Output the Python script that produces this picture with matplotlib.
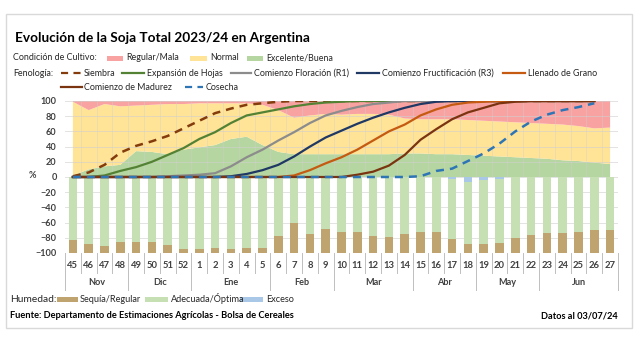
import numpy as np
import matplotlib.pyplot as plt
import matplotlib.transforms as mtransforms
from matplotlib.patches import Rectangle
from matplotlib.lines import Line2D

plt.rcParams['font.family'] = ['Lato', 'DejaVu Sans']

# semanas del ciclo y meses
semanas = ['45', '46', '47', '48', '49', '50', '51', '52', '1', '2', '3', '4', '5',
           '6', '7', '8', '9', '10', '11', '12', '13', '14', '15', '16', '17', '18',
           '19', '20', '21', '22', '23', '24', '25', '26', '27']
meses = ['Nov', 'Dic', 'Ene', 'Feb', 'Mar', 'Abr', 'May', 'Jun']
semanas_por_mes = [4, 4, 5, 4, 5, 4, 4, 5]

# condicion de cultivo (%)
excelente = [2, 10, 14, 16, 34, 33, 30, 36, 39, 42, 50, 53, 42, 33, 30, 30, 30, 30,
             30, 30, 30, 31, 31, 30, 30, 29, 28, 27, 26, 25, 24, 22, 21, 19, 17]
normal = [97, 78, 82, 77, 60, 62, 66, 60, 58, 55, 47, 44, 53, 55, 48, 51, 53, 52,
          53, 53, 52, 46, 45, 46, 46, 46, 46, 46, 46, 46, 46, 47, 46, 45, 48]
regular = [1, 12, 4, 7, 6, 5, 4, 4, 3, 3, 3, 3, 5, 12, 22, 19, 17, 18,
           17, 17, 18, 23, 24, 24, 24, 25, 26, 27, 28, 29, 30, 31, 33, 36, 35]

# fenologia (% avance)
nan = np.nan
siembra = [1, 6, 16, 32, 41, 47, 54, 64, 74, 84, 90, 95, 97, 99, 100, 100, 100, 100,
           100, 100, 100, 100, 100, 100, 100, 100, 100, 100, 100, 100, 100, 100, 100, 100, nan]
expansion = [0, 0, 2, 8, 13, 20, 29, 38, 50, 59, 71, 81, 85, 89, 93, 96, 98, 99,
             100, 100, 100, 100, 100, 100, 100, 100, 100, 100, 100, 100, 100, 100, 100, 100, nan]
floracion = [0, 0, 0, 0, 0, 0, 1, 2, 3, 5, 14, 26, 36, 48, 59, 71, 81, 87,
             92, 96, 98, 100, 100, 100, 100, 100, 100, 100, 100, 100, 100, 100, 100, 100, nan]
fructificacion = [0, 0, 0, 0, 0, 0, 0, 0, 0, 0, 1, 4, 9, 16, 27, 40, 52, 61,
                  70, 78, 85, 91, 96, 99, 100, 100, 100, 100, 100, 100, 100, 100, 100, 100, nan]
llenado = [0, 0, 0, 0, 0, 0, 0, 0, 0, 0, 0, 0, 0, 0, 2, 9, 18, 26,
           36, 48, 60, 69, 81, 89, 95, 98, 99, 100, 100, 100, 100, 100, 100, 100, nan]
madurez = [0, 0, 0, 0, 0, 0, 0, 0, 0, 0, 0, 0, 0, 0, 0, 0, 0, 0,
           3, 7, 15, 29, 49, 63, 76, 85, 91, 97, 99, 100, 100, 100, 100, 100, nan]
cosecha = [0, 0, 0, 0, 0, 0, 0, 0, 0, 0, 0, 0, 0, 0, 0, 0, 0, 0,
           0, 0, 0, 0, 1, 8, 11, 21, 31, 44, 60, 73, 82, 88, 92, 97, nan]

# humedad (%)
sequia = [17, 12, 9, 14, 15, 15, 11, 5, 5, 6, 5, 6, 6, 22, 40, 25, 32, 27,
          27, 22, 21, 25, 28, 27, 18, 12, 12, 13, 20, 24, 26, 26, 28, 30, 30]
adecuada = [83, 88, 91, 86, 85, 85, 89, 95, 95, 94, 95, 94, 94, 78, 60, 75, 68, 73,
            73, 78, 79, 75, 72, 73, 79, 81, 84, 85, 80, 76, 74, 74, 72, 70, 70]
exceso = [0, 0, 0, 0, 0, 0, 0, 0, 0, 0, 0, 0, 0, 0, 0, 0, 0, 0,
          0, 0, 0, 0, 0, 0, 3, 7, 4, 2, 0, 0, 0, 0, 0, 0, 0]

C_REG, C_NOR, C_EXC = '#F9A2A2', '#FFE397', '#B5D6A0'
C_SEQ, C_ADE, C_EXS = '#BFA46F', '#C6E0B4', '#A9C8E8'
fenologia = [
    (siembra, '#843C0C', 'dash'),
    (expansion, '#548235', 'solid'),
    (floracion, '#8C8C8C', 'solid'),
    (fructificacion, '#1F3864', 'solid'),
    (llenado, '#C55A11', 'solid'),
    (madurez, '#7B3410', 'solid'),
    (cosecha, '#2E75B6', 'dash'),
]

W, H = 640, 341
fig = plt.figure(figsize=(W / 100, H / 100), dpi=100)
ax = fig.add_axes([65 / W, 1 - 253 / H, 553 / W, 152 / H])

x = np.arange(len(semanas))

# areas de condicion
ax.stackplot(x, excelente, normal, regular, colors=[C_EXC, C_NOR, C_REG], lw=0, zorder=1)

# barras de humedad hacia abajo
exs = np.array(exceso)
ade = np.array(adecuada)
seq = np.array(sequia)
ax.bar(x, -exs, width=0.55, color=C_EXS, zorder=3)
ax.bar(x, -ade, bottom=-exs, width=0.55, color=C_ADE, zorder=3)
ax.bar(x, -seq, bottom=-(exs + ade), width=0.55, color=C_SEQ, zorder=3)

# grilla
for v in range(-100, 101, 20):
    ax.axhline(v, color='#D0D0D0', lw=0.7, alpha=0.6, zorder=2)
ax.vlines(x[:-1] + 0.5, 0, 100, color='#D0D0D0', lw=0.6, alpha=0.45, zorder=2)

# curvas de fenologia
for serie, color, estilo in fenologia:
    if estilo == 'dash':
        ax.plot(x, serie, color=color, lw=1.8, dashes=(3.2, 2.4), zorder=4)
    else:
        ax.plot(x, serie, color=color, lw=1.6, zorder=4)

ax.set_xlim(-0.5, len(semanas) - 0.5)
ax.set_ylim(-100, 100)
ax.set_yticks(range(-100, 101, 20))
ax.set_xticks([])
ax.tick_params(axis='y', length=0, pad=6, labelsize=6.6, labelcolor='#404040')
for lab in ax.get_yticklabels():
    lab.set_fontweight('bold')
for s in ax.spines.values():
    s.set_visible(False)

# etiquetas de semanas y meses
trans = mtransforms.blended_transform_factory(ax.transData, ax.transAxes)
for i, s in enumerate(semanas):
    ax.text(i, -0.084, s, transform=trans, ha='center', va='center',
            fontsize=6.8, fontweight='bold', color='#404040')
limites = np.cumsum([0] + semanas_por_mes) - 0.5
for b in np.arange(-0.5, len(semanas), 1.0):
    y1 = -0.245 if np.any(np.isclose(limites, b)) else -0.13
    ax.plot([b, b], [0, y1], transform=trans, color='#BFBFBF', lw=0.7, clip_on=False)
for m, a, b in zip(meses, limites[:-1], limites[1:]):
    ax.text((a + b) / 2, -0.197, m, transform=trans, ha='center', va='center',
            fontsize=6.6, fontweight='bold', color='#404040')


def ftext(px, py, s, **kw):
    fig.text(px / W, 1 - py / H, s, va='center', **kw)


def fpatch(x0, x1, py, h, color):
    fig.add_artist(Rectangle((x0 / W, 1 - (py + h / 2) / H), (x1 - x0) / W, h / H,
                             transform=fig.transFigure, color=color, lw=0))


def fline(x0, x1, py, color, dash=False):
    ln = Line2D([x0 / W, x1 / W], [1 - py / H] * 2, transform=fig.transFigure,
                color=color, lw=1.6)
    if dash:
        ln.set_dashes((3.2, 2.4))
    fig.add_artist(ln)


# marco
fig.add_artist(Rectangle((6 / W, 1 - 328 / H), 626 / W, 314 / H, transform=fig.transFigure,
                         fill=False, edgecolor='#D9D9D9', lw=1))

ftext(15, 38, 'Evolución de la Soja Total 2023/24 en Argentina', fontsize=9.8,
      fontweight='bold', color='black')

fs = 6.4
txt = '#262626'
ftext(13, 58, 'Condición de Cultivo:', fontsize=fs, color=txt)
fpatch(107, 123, 58, 5, C_REG)
ftext(126, 58, 'Regular/Mala', fontsize=fs, color=txt)
fpatch(190, 207, 58, 5, C_NOR)
ftext(210, 58, 'Normal', fontsize=fs, color=txt)
fpatch(247, 263, 58, 5, C_EXC)
ftext(266, 58, 'Excelente/Buena', fontsize=fs, color=txt)

ftext(13, 73, 'Fenología:', fontsize=fs, color=txt)
fline(61, 81, 73, '#843C0C', dash=True)
ftext(84, 73, 'Siembra', fontsize=fs, color=txt)
fline(122, 144, 73, '#548235')
ftext(147, 73, 'Expansión de Hojas', fontsize=fs, color=txt)
fline(231, 251, 73, '#8C8C8C')
ftext(254, 73, 'Comienzo Floración (R1)', fontsize=fs, color=txt)
fline(357, 379, 73, '#1F3864')
ftext(382, 73, 'Comienzo Fructificación (R3)', fontsize=fs, color=txt)
fline(503, 525, 73, '#C55A11')
ftext(528, 73, 'Llenado de Grano', fontsize=fs, color=txt)
fline(61, 82, 87, '#7B3410')
ftext(84, 87, 'Comienzo de Madurez', fontsize=fs, color=txt)
fline(185, 203, 87, '#2E75B6', dash=True)
ftext(206, 87, 'Cosecha', fontsize=fs, color=txt)

ftext(32, 176, '%', fontsize=6.6, fontweight='bold', color='#404040', ha='center')

ftext(10, 299, 'Humedad:', fontsize=7.4, color=txt)
fpatch(57, 78, 299, 5, C_SEQ)
ftext(80, 299, 'Sequía/Regular', fontsize=6.6, color=txt)
fpatch(145, 168, 299, 5, C_ADE)
ftext(171, 299, 'Adecuada/Óptima', fontsize=6.6, color=txt)
fpatch(240, 263, 299, 5, C_EXS)
ftext(266, 299, 'Exceso', fontsize=6.6, color=txt)

ftext(10, 315, 'Fuente: Departamento de Estimaciones Agrícolas - Bolsa de Cereales',
      fontsize=6.7, fontweight='bold', color='black')
ftext(618, 316, 'Datos al 03/07/24', fontsize=6.7, fontweight='bold', color='black', ha='right')

fig.savefig('out.png', dpi=100)
